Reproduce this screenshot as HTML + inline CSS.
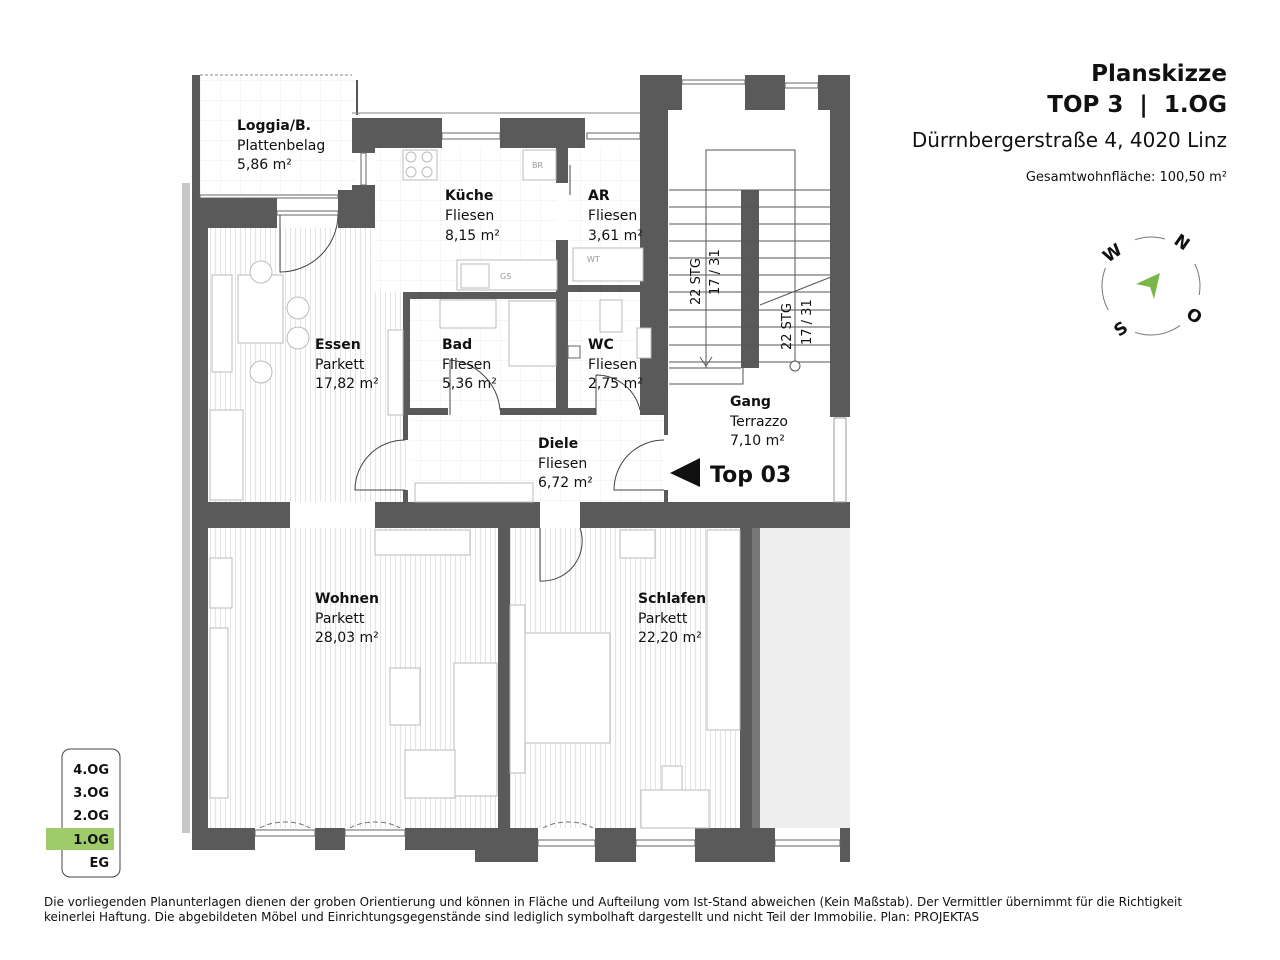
<!DOCTYPE html>
<html><head><meta charset="utf-8"><style>
html,body{margin:0;padding:0;background:#fff;}
svg{display:block;}
text{font-family:"DejaVu Sans","Liberation Sans",sans-serif;fill:#111;}
.b{font-weight:bold;font-size:14px;}
.r{font-size:14px;}
</style></head><body>
<svg width="1280" height="960" viewBox="0 0 1280 960" xmlns="http://www.w3.org/2000/svg">
<defs>
<pattern id="pk" width="5" height="10" patternUnits="userSpaceOnUse"><rect width="5" height="10" fill="#fff"/><line x1="0.5" y1="0" x2="0.5" y2="10" stroke="#e4e4e4" stroke-width="1"/></pattern>
<pattern id="tl" width="20" height="20" patternUnits="userSpaceOnUse"><rect width="20" height="20" fill="#fff"/><path d="M0 0H20M0 0V20" stroke="#ececec" stroke-width="1" fill="none"/></pattern>
</defs>
<rect x="198" y="75" width="158" height="120" fill="url(#tl)"/>
<rect x="208" y="228" width="200" height="274" fill="url(#pk)"/>
<rect x="375" y="148" width="182" height="144" fill="url(#tl)"/>
<rect x="568" y="148" width="75" height="260" fill="url(#tl)"/>
<rect x="410" y="299" width="146" height="109" fill="url(#tl)"/>
<rect x="410" y="415" width="255" height="87" fill="url(#tl)"/>
<rect x="208" y="528" width="290" height="300" fill="url(#pk)"/>
<rect x="510" y="528" width="230" height="300" fill="url(#pk)"/>
<rect x="760" y="528" width="90" height="300" fill="#eeeeee"/>
<rect x="182" y="183" width="8" height="650" fill="#c8c8c8"/>
<g fill="#5a5a5a">
<rect x="192" y="75" width="8" height="125"/>
<rect x="192" y="195" width="16" height="640"/>
<rect x="192" y="195" width="85" height="33"/>
<rect x="338" y="190" width="37" height="38"/>
<rect x="352" y="118" width="90" height="30"/>
<rect x="500" y="118" width="85" height="30"/>
<rect x="640" y="118" width="28" height="30"/>
<rect x="352" y="118" width="23" height="35"/>
<rect x="352" y="185" width="23" height="10"/>
<rect x="640" y="75" width="28" height="340"/>
<rect x="640" y="75" width="42" height="35"/>
<rect x="745" y="75" width="40" height="35"/>
<rect x="818" y="75" width="32" height="35"/>
<rect x="830" y="75" width="20" height="342"/>
<rect x="741" y="190" width="18" height="178"/>
<rect x="192" y="502" width="98" height="26"/>
<rect x="375" y="502" width="165" height="26"/>
<rect x="580" y="502" width="270" height="26"/>
<rect x="498" y="528" width="12" height="300"/>
<rect x="740" y="528" width="12" height="300"/>
<rect x="752" y="528" width="8" height="300" fill="#777"/>
<rect x="192" y="828" width="63" height="22"/>
<rect x="315" y="828" width="30" height="22"/>
<rect x="405" y="828" width="133" height="22"/>
<rect x="475" y="828" width="63" height="34"/>
<rect x="595" y="828" width="41" height="34"/>
<rect x="695" y="828" width="80" height="34"/>
<rect x="840" y="828" width="10" height="34"/>
<rect x="403" y="292" width="157" height="7"/>
<rect x="403" y="292" width="7" height="123"/>
<rect x="556" y="148" width="12" height="35"/>
<rect x="556" y="240" width="12" height="175"/>
<rect x="568" y="285" width="74" height="7"/>
<rect x="410" y="408" width="38" height="7"/>
<rect x="500" y="408" width="56" height="7"/>
<rect x="568" y="408" width="28" height="7"/>
<rect x="640" y="408" width="28" height="7"/>
<rect x="403" y="415" width="5" height="25"/>
<rect x="403" y="490" width="5" height="12"/>
<rect x="664" y="415" width="4" height="20"/>
<rect x="664" y="490" width="4" height="12"/>
</g>
<rect x="834" y="418" width="12" height="84" fill="#fff" stroke="#999"/>
<rect x="568" y="346" width="12" height="12" fill="#fff" stroke="#666"/>
<g fill="#fff" stroke="#666" stroke-width="1">
<rect x="442" y="133" width="58" height="6"/><rect x="587" y="133" width="53" height="6"/>
<rect x="255" y="830" width="60" height="6"/><rect x="345" y="830" width="60" height="6"/>
<rect x="538" y="840" width="57" height="6"/><rect x="636" y="840" width="59" height="6"/><rect x="775" y="840" width="65" height="6"/>
<rect x="682" y="80" width="63" height="4"/><rect x="785" y="83" width="33" height="5"/>
<rect x="277" y="211" width="61" height="4"/><rect x="361" y="153" width="5" height="32"/>
<rect x="200" y="195" width="138" height="3"/>
</g>
<line x1="200" y1="75" x2="352" y2="75" stroke="#888" stroke-dasharray="3,2"/>
<line x1="357" y1="80" x2="357" y2="115" stroke="#555" stroke-width="2"/>
<line x1="352" y1="113" x2="640" y2="113" stroke="#888"/>
<g fill="none" stroke="#444" stroke-width="1">
<path d="M280 215V272A58 58 0 0 0 338 215"/>
<path d="M405 440A50 50 0 0 0 355 490H405"/>
<path d="M450 415V360A55 55 0 0 1 500 410"/>
<path d="M596 415V375A45 45 0 0 1 640 410"/>
<path d="M664 440A50 50 0 0 0 614 490H664"/>
<path d="M540 528V581A40 40 0 0 0 580 528"/>
<path d="M570 195V165"/>
<path d="M260 828A35 20 0 0 1 310 828M350 828A35 20 0 0 1 400 828M543 828A35 20 0 0 1 593 828" stroke-dasharray="5,3" stroke="#777"/>
</g>
<g fill="#fff" stroke="#bbb" stroke-width="1">
<rect x="403" y="150" width="34" height="30"/><circle cx="411" cy="157" r="5"/><circle cx="427" cy="157" r="5"/><circle cx="411" cy="172" r="5"/><circle cx="427" cy="172" r="5"/>
<rect x="523" y="150" width="33" height="30"/>
<rect x="457" y="260" width="100" height="30"/><rect x="461" y="264" width="28" height="24"/>
<rect x="573" y="248" width="70" height="33"/>
<rect x="238" y="275" width="45" height="68"/><rect x="212" y="275" width="20" height="97"/>
<circle cx="261" cy="272" r="11"/><circle cx="298" cy="308" r="11"/><circle cx="298" cy="338" r="11"/><circle cx="261" cy="372" r="11"/>
<rect x="210" y="410" width="33" height="90"/><rect x="388" y="330" width="15" height="85"/>
<rect x="440" y="300" width="56" height="28"/><rect x="509" y="301" width="47" height="65"/>
<rect x="600" y="300" width="22" height="32"/><rect x="637" y="328" width="14" height="30"/>
<rect x="415" y="483" width="118" height="19"/>
<rect x="375" y="530" width="95" height="25"/><rect x="210" y="558" width="22" height="50"/><rect x="210" y="628" width="18" height="170"/>
<rect x="390" y="668" width="30" height="57"/><rect x="454" y="663" width="43" height="133"/><rect x="405" y="750" width="50" height="48"/>
<rect x="510" y="605" width="15" height="168"/><rect x="525" y="633" width="85" height="110"/>
<rect x="620" y="530" width="35" height="28"/><rect x="707" y="530" width="33" height="200"/>
<rect x="641" y="790" width="68" height="38"/><rect x="662" y="766" width="20" height="24"/>
</g>
<text x="532" y="168" font-size="8" style="fill:#999">BR</text>
<text x="500" y="279" font-size="8" style="fill:#999">GS</text>
<text x="587" y="262" font-size="8" style="fill:#999">WT</text>
<g stroke="#555" stroke-width="1" fill="none">
<path d="M669 190H831M669 207H831M669 224H831M669 241H831M669 258H831M669 275H831M669 292H831M669 310H831M669 327H831M669 345H831M669 362H831M669 368H741"/>
<path d="M706 368V150H795V368"/>
<path d="M700 357L706 366L712 357"/>
<path d="M760 305L831 277"/><circle cx="795" cy="366" r="5" fill="#fff"/>
</g>
<rect x="669" y="377" width="161" height="125" fill="#fff"/>
<path d="M669 384H743V368" stroke="#555" fill="none"/>
<text transform="translate(700,305) rotate(-90)" font-size="13">22 STG</text>
<text transform="translate(719,295) rotate(-90)" font-size="13">17 / 31</text>
<text transform="translate(791,350) rotate(-90)" font-size="13">22 STG</text>
<text transform="translate(811,345) rotate(-90)" font-size="13">17 / 31</text>
<polygon points="670,473 700,458 700,487" fill="#111"/>
<text x="710" y="482" font-weight="bold" font-size="22">Top 03</text>
<text x="237" y="130" class="b">Loggia/B.</text><text x="237" y="150" class="r">Plattenbelag</text><text x="237" y="169" class="r">5,86 m²</text>
<text x="445" y="200" class="b">Küche</text><text x="445" y="220" class="r">Fliesen</text><text x="445" y="240" class="r">8,15 m²</text>
<text x="588" y="200" class="b">AR</text><text x="588" y="220" class="r">Fliesen</text><text x="588" y="240" class="r">3,61 m²</text>
<text x="315" y="349" class="b">Essen</text><text x="315" y="369" class="r">Parkett</text><text x="315" y="388" class="r">17,82 m²</text>
<text x="442" y="349" class="b">Bad</text><text x="442" y="369" class="r">Fliesen</text><text x="442" y="388" class="r">5,36 m²</text>
<text x="588" y="349" class="b">WC</text><text x="588" y="369" class="r">Fliesen</text><text x="588" y="388" class="r">2,75 m²</text>
<text x="538" y="448" class="b">Diele</text><text x="538" y="468" class="r">Fliesen</text><text x="538" y="487" class="r">6,72 m²</text>
<text x="730" y="406" class="b">Gang</text><text x="730" y="426" class="r">Terrazzo</text><text x="730" y="445" class="r">7,10 m²</text>
<text x="315" y="603" class="b">Wohnen</text><text x="315" y="623" class="r">Parkett</text><text x="315" y="642" class="r">28,03 m²</text>
<text x="638" y="603" class="b">Schlafen</text><text x="638" y="623" class="r">Parkett</text><text x="638" y="642" class="r">22,20 m²</text>
<text x="1227" y="81" text-anchor="end" font-weight="bold" font-size="23">Planskizze</text>
<text x="1227" y="112" text-anchor="end" font-weight="bold" font-size="23" style="white-space:pre" xml:space="preserve">TOP 3  |  1.OG</text>
<text x="1227" y="147" text-anchor="end" font-size="20">Dürrnbergerstraße 4, 4020 Linz</text>
<text x="1227" y="181" text-anchor="end" font-size="13">Gesamtwohnfläche: 100,50 m²</text>
<circle cx="1151" cy="286" r="49" fill="none" stroke="#777"/>
<rect x="1095" y="228" width="40" height="40" fill="#fff"/><rect x="1165" y="224" width="40" height="40" fill="#fff"/>
<rect x="1180" y="295" width="30" height="35" fill="#fff"/><rect x="1105" y="310" width="30" height="30" fill="#fff"/>
<text x="1102" y="260" font-weight="bold" font-size="17" transform="rotate(-35 1110 252)">W</text>
<text x="1175" y="248" font-weight="bold" font-size="17" transform="rotate(35 1182 242)">N</text>
<text x="1187" y="322" font-weight="bold" font-size="17" transform="rotate(35 1195 316)">O</text>
<text x="1114" y="335" font-weight="bold" font-size="17" transform="rotate(-35 1120 328)">S</text>
<polygon points="1136,284 1160,273 1154,299 1150,287" fill="#7ab648"/>
<rect x="62" y="749" width="58" height="128" rx="8" fill="none" stroke="#444"/>
<rect x="46" y="828" width="68" height="22" fill="#9fcb6a"/>
<g font-weight="bold" font-size="13" text-anchor="end">
<text x="109" y="774">4.OG</text><text x="109" y="797">3.OG</text><text x="109" y="820">2.OG</text><text x="109" y="844">1.OG</text><text x="109" y="867">EG</text>
</g>
<text x="44" y="906" font-size="12">Die vorliegenden Planunterlagen dienen der groben Orientierung und können in Fläche und Aufteilung vom Ist-Stand abweichen (Kein Maßstab). Der Vermittler übernimmt für die Richtigkeit</text>
<text x="44" y="921" font-size="12">keinerlei Haftung. Die abgebildeten Möbel und Einrichtungsgegenstände sind lediglich symbolhaft dargestellt und nicht Teil der Immobilie. Plan: PROJEKTAS</text>
</svg>
</body></html>
